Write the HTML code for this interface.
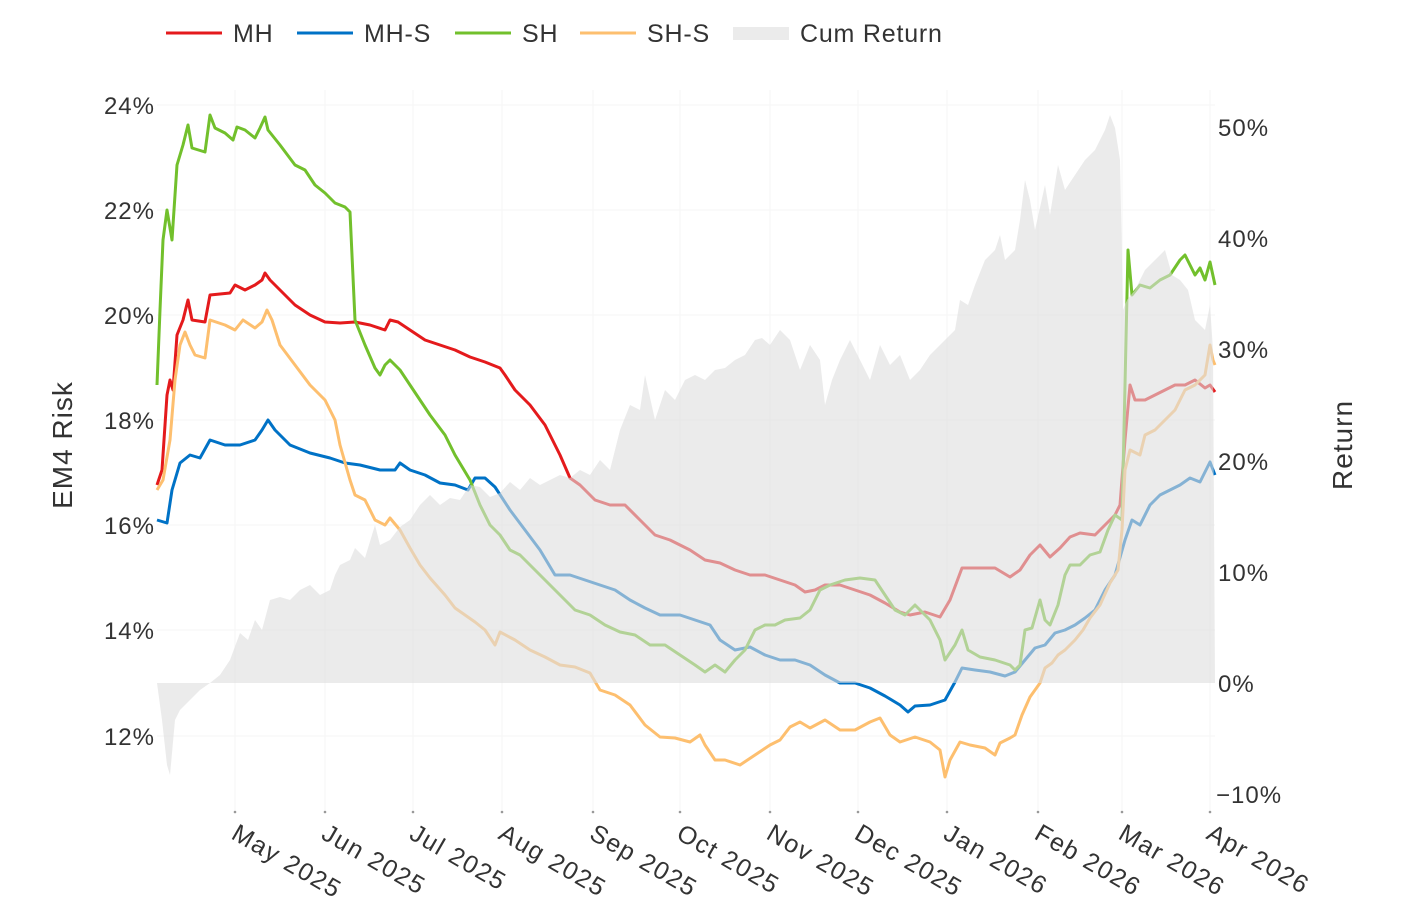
<!DOCTYPE html>
<html><head><meta charset="utf-8"><style>
html,body{margin:0;padding:0;background:#fff;}
svg text{font-family:"Liberation Sans","DejaVu Sans",sans-serif;fill:#333;}
</style></head><body>
<svg width="1404" height="917" viewBox="0 0 1404 917" xmlns="http://www.w3.org/2000/svg">
<g stroke="#f5f5f5" stroke-width="1">
<line x1="157" y1="105" x2="1215" y2="105"/><line x1="157" y1="210" x2="1215" y2="210"/><line x1="157" y1="315" x2="1215" y2="315"/><line x1="157" y1="420" x2="1215" y2="420"/><line x1="157" y1="525" x2="1215" y2="525"/><line x1="157" y1="630" x2="1215" y2="630"/><line x1="157" y1="736" x2="1215" y2="736"/>
<line x1="235" y1="90" x2="235" y2="812"/><line x1="325" y1="90" x2="325" y2="812"/><line x1="413" y1="90" x2="413" y2="812"/><line x1="502" y1="90" x2="502" y2="812"/><line x1="593" y1="90" x2="593" y2="812"/><line x1="680" y1="90" x2="680" y2="812"/><line x1="770" y1="90" x2="770" y2="812"/><line x1="858" y1="90" x2="858" y2="812"/><line x1="947" y1="90" x2="947" y2="812"/><line x1="1038" y1="90" x2="1038" y2="812"/><line x1="1122" y1="90" x2="1122" y2="812"/><line x1="1210" y1="90" x2="1210" y2="812"/>
</g>
<g fill="none" stroke-width="3" stroke-linejoin="round">
<polyline stroke="#e41a1c" points="157,485 162,470 167,395 170,380 173,390 177,335 183,320 188,300 192,320 205,322 210,295 230,293 235,285 245,290 255,285 262,280 265,273 270,280 280,290 295,305 310,315 325,322 340,323 355,322 370,325 385,330 390,320 398,322 410,330 425,340 440,345 455,350 470,357 485,362 500,368 505,375 515,390 530,405 545,425 560,455 570,478 580,485 595,500 610,505 625,505 640,520 655,535 670,540 690,550 705,560 720,563 735,570 750,575 765,575 780,580 795,585 805,592 815,590 825,585 840,585 855,590 870,595 885,603 900,612 910,615 925,612 940,617 950,600 962,568 980,568 995,568 1010,577 1020,570 1030,555 1040,545 1050,557 1060,548 1070,537 1080,533 1095,535 1105,525 1115,515 1120,505 1125,440 1130,385 1135,400 1145,400 1155,395 1165,390 1175,385 1185,385 1195,380 1205,388 1210,385 1215,392"/>
<polyline stroke="#0072c6" points="157,520 167,523 172,490 180,463 190,455 200,458 210,440 225,445 240,445 255,440 262,430 268,420 275,430 290,445 310,453 330,458 345,463 360,465 380,470 395,470 400,463 410,470 425,475 440,483 455,485 468,490 475,478 485,478 495,487 510,510 525,530 540,550 555,575 570,575 585,580 600,585 615,590 630,600 645,608 660,615 680,615 695,620 710,625 720,640 735,650 750,647 765,655 780,660 795,660 810,665 825,675 840,683 855,683 870,688 885,696 900,705 908,712 915,706 930,705 945,700 955,682 962,668 975,670 990,672 1005,676 1015,672 1025,660 1035,648 1045,645 1055,633 1065,630 1075,625 1085,618 1095,610 1105,590 1115,575 1125,540 1132,520 1140,525 1150,505 1160,495 1170,490 1180,485 1190,478 1200,482 1205,472 1210,462 1215,475"/>
<polyline stroke="#72c02c" points="157,385 160,310 163,240 167,210 172,240 177,165 183,145 188,125 192,148 205,152 210,115 215,128 225,133 233,140 237,127 245,130 255,138 260,128 265,117 268,130 280,145 295,165 305,170 315,185 325,193 335,203 345,207 350,212 355,320 365,345 375,368 380,375 385,365 390,360 400,370 410,385 420,400 430,415 445,435 455,455 470,480 480,505 490,525 500,535 510,550 520,555 530,565 545,580 560,595 575,610 590,615 605,625 620,632 635,635 650,645 665,645 680,655 695,665 705,672 715,665 725,672 735,660 745,650 755,630 765,625 775,625 785,620 800,618 810,610 820,590 830,585 845,580 860,578 875,580 885,595 895,610 905,615 915,605 930,620 940,640 945,660 955,645 962,630 968,650 980,657 995,660 1010,665 1015,670 1020,665 1025,630 1032,628 1040,600 1045,620 1050,625 1058,605 1065,575 1070,565 1080,565 1090,555 1100,552 1108,530 1115,515 1122,520 1126,340 1128,250 1132,295 1140,285 1150,288 1160,280 1170,275 1180,260 1185,255 1190,265 1195,275 1200,268 1205,280 1210,262 1215,285"/>
<polyline stroke="#fdbf6f" points="157,490 163,480 170,440 175,380 180,345 185,332 190,345 195,355 205,358 210,320 225,325 235,330 243,320 255,328 262,322 267,310 272,320 280,345 295,365 310,385 325,400 335,420 340,445 350,480 355,495 365,500 375,520 385,525 390,518 400,530 410,548 420,565 430,578 445,595 455,608 465,615 475,622 485,630 495,645 500,632 515,640 530,650 545,657 560,665 575,667 590,673 600,690 615,695 630,705 645,725 660,737 675,738 690,742 700,735 705,745 715,760 725,760 740,765 755,755 770,745 780,740 790,727 800,722 810,728 825,720 840,730 855,730 870,722 880,718 890,735 900,742 915,737 930,742 940,750 945,777 950,760 960,742 970,745 985,748 995,755 1000,743 1010,738 1015,735 1022,715 1030,697 1040,683 1045,668 1052,663 1058,655 1065,650 1075,640 1083,630 1090,618 1100,605 1110,583 1118,570 1122,530 1125,470 1130,450 1140,455 1145,435 1155,430 1165,420 1175,410 1185,390 1195,385 1205,375 1210,345 1213,360 1215,365"/>
</g>
<polygon fill="#dedede" fill-opacity="0.6" points="157,683 162,720 167,765 170,775 175,720 180,710 190,700 200,690 210,683 220,675 230,660 240,633 248,640 255,620 262,630 270,600 280,597 290,600 300,590 310,585 320,595 330,590 335,575 340,565 350,560 355,548 365,558 375,525 380,545 390,540 400,527 410,520 420,505 430,495 440,505 450,498 460,500 470,485 480,487 490,497 500,493 510,482 520,490 530,478 540,485 550,480 560,475 570,478 580,470 590,475 600,460 610,470 620,430 630,405 640,410 645,375 655,420 665,390 675,400 685,380 695,375 705,380 715,370 725,368 735,360 745,355 755,340 762,338 770,345 780,330 790,340 800,370 810,345 820,360 825,405 832,380 840,360 850,340 860,360 870,380 880,345 890,365 900,355 910,380 920,370 930,355 940,345 950,335 955,330 960,300 968,305 975,285 985,260 995,250 1000,235 1005,260 1015,250 1020,220 1025,180 1030,200 1035,230 1045,185 1050,215 1058,165 1065,190 1075,175 1085,160 1095,150 1100,140 1105,130 1110,115 1115,128 1120,160 1123,310 1127,300 1135,290 1145,270 1155,260 1165,250 1172,275 1180,280 1188,290 1195,320 1205,330 1210,305 1213,350 1215,683"/>
<g font-size="24" letter-spacing="1" text-anchor="end">
<text x="155" y="114">24%</text><text x="155" y="219">22%</text><text x="155" y="324">20%</text><text x="155" y="429">18%</text><text x="155" y="534">16%</text><text x="155" y="639">14%</text><text x="155" y="745">12%</text>
</g>
<g font-size="24" letter-spacing="1" text-anchor="start">
<text x="1218" y="136">50%</text><text x="1218" y="247">40%</text><text x="1218" y="358">30%</text><text x="1218" y="470">20%</text><text x="1218" y="581">10%</text><text x="1218" y="692">0%</text><text x="1216" y="803">−10%</text>
</g>
<g fill="#999"><circle cx="235" cy="812" r="1.3"/><circle cx="325" cy="812" r="1.3"/><circle cx="413" cy="812" r="1.3"/><circle cx="502" cy="812" r="1.3"/><circle cx="593" cy="812" r="1.3"/><circle cx="680" cy="812" r="1.3"/><circle cx="770" cy="812" r="1.3"/><circle cx="858" cy="812" r="1.3"/><circle cx="947" cy="812" r="1.3"/><circle cx="1038" cy="812" r="1.3"/><circle cx="1122" cy="812" r="1.3"/><circle cx="1210" cy="812" r="1.3"/></g>
<g font-size="25" letter-spacing="1.5">
<text transform="translate(230,838) rotate(30)">May 2025</text>
<text transform="translate(320,838) rotate(30)">Jun 2025</text>
<text transform="translate(408,838) rotate(30)">Jul 2025</text>
<text transform="translate(497,838) rotate(30)">Aug 2025</text>
<text transform="translate(588,838) rotate(30)">Sep 2025</text>
<text transform="translate(675,838) rotate(30)">Oct 2025</text>
<text transform="translate(765,838) rotate(30)">Nov 2025</text>
<text transform="translate(853,838) rotate(30)">Dec 2025</text>
<text transform="translate(942,838) rotate(30)">Jan 2026</text>
<text transform="translate(1033,838) rotate(30)">Feb 2026</text>
<text transform="translate(1117,838) rotate(30)">Mar 2026</text>
<text transform="translate(1205,838) rotate(30)">Apr 2026</text>
</g>
<text font-size="28" letter-spacing="1" text-anchor="middle" transform="translate(72,445) rotate(-90)" fill="#222">EM4 Risk</text>
<text font-size="28" letter-spacing="1" text-anchor="middle" transform="translate(1352,445) rotate(-90)" fill="#222">Return</text>
<g font-size="25" letter-spacing="0.8">
<line x1="166" y1="33" x2="222" y2="33" stroke="#e41a1c" stroke-width="3"/><text x="233" y="42">MH</text>
<line x1="297" y1="33" x2="353" y2="33" stroke="#0072c6" stroke-width="3"/><text x="364" y="42">MH-S</text>
<line x1="455" y1="33" x2="511" y2="33" stroke="#72c02c" stroke-width="3"/><text x="522" y="42">SH</text>
<line x1="580" y1="33" x2="636" y2="33" stroke="#fdbf6f" stroke-width="3"/><text x="647" y="42">SH-S</text>
<rect x="733" y="27" width="56" height="13" fill="#ebebeb"/><text x="800" y="42">Cum Return</text>
</g>
</svg>
</body></html>
